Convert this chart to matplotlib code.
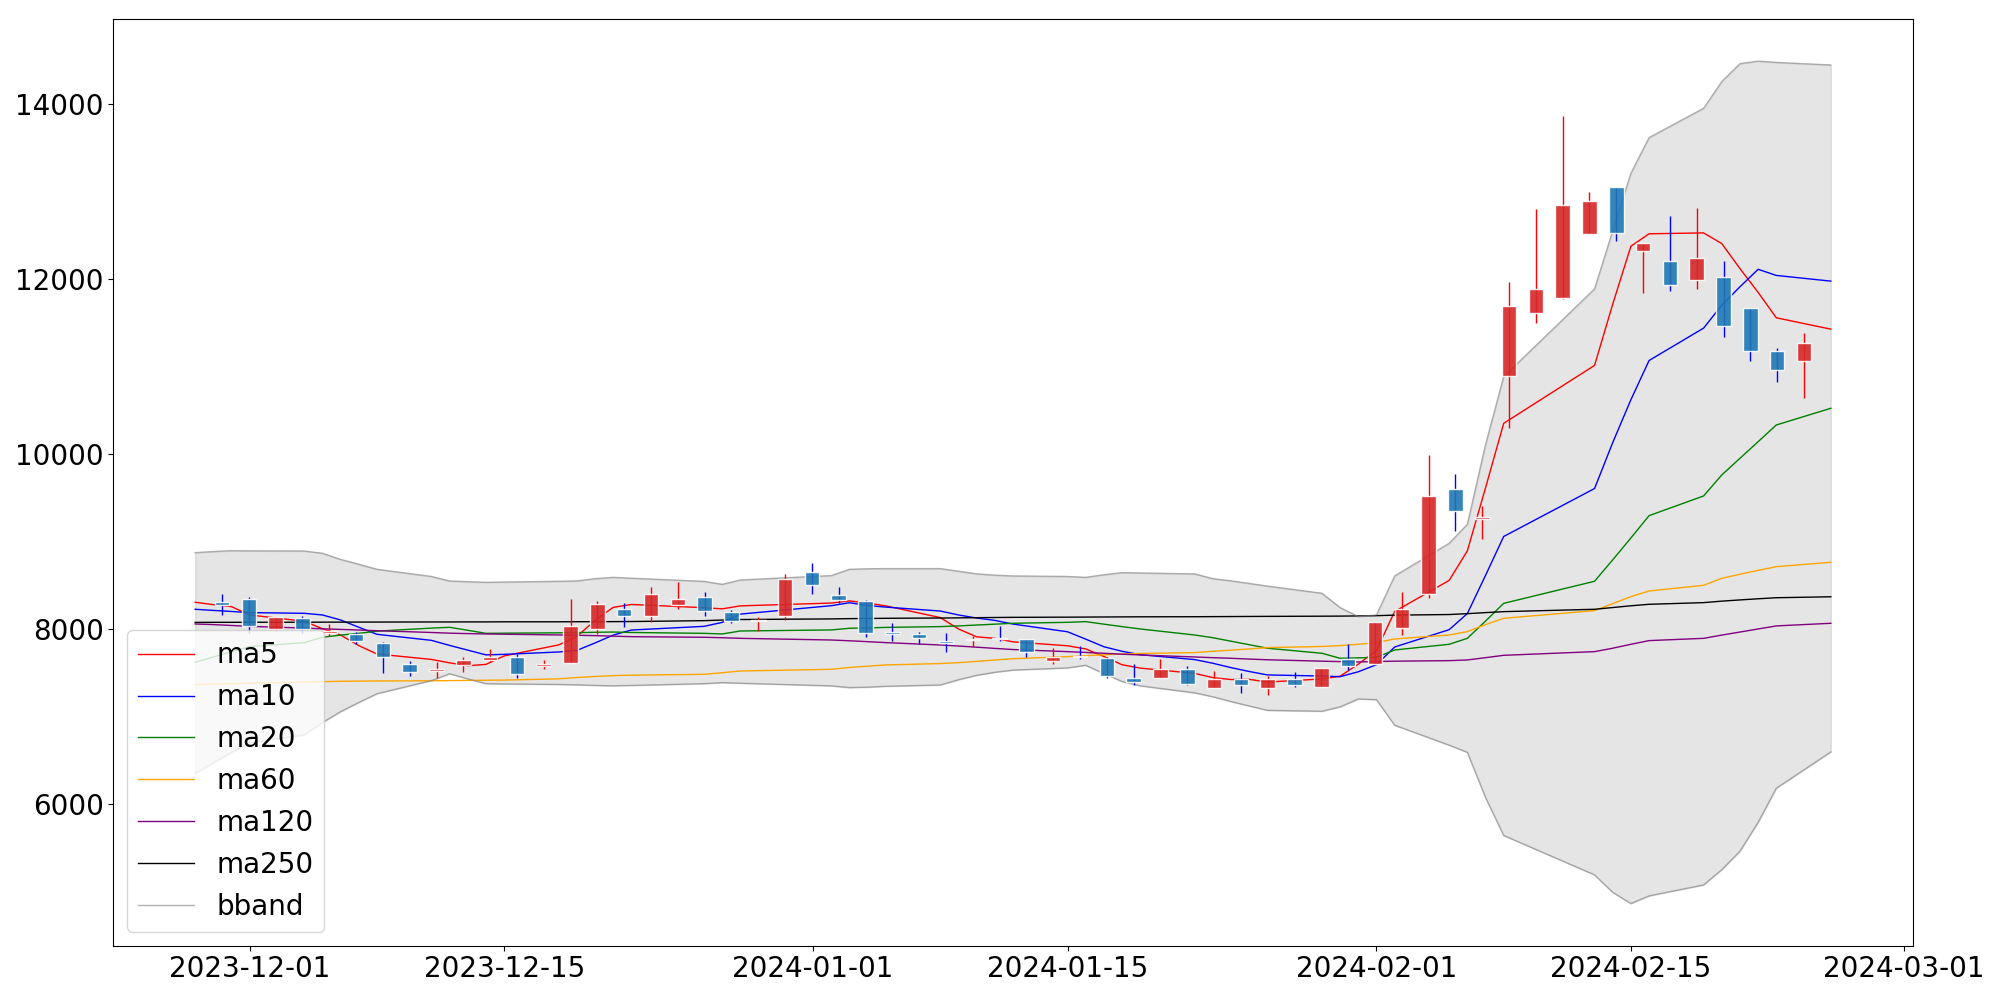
import numpy as np
import pandas as pd
import matplotlib
matplotlib.use('Agg')
import matplotlib.pyplot as plt
import matplotlib.dates as mdates

# trading days
dates = pd.to_datetime([
    '2023-11-28', '2023-11-29', '2023-11-30', '2023-12-01', '2023-12-04', '2023-12-05',
    '2023-12-06', '2023-12-07', '2023-12-08', '2023-12-11', '2023-12-12', '2023-12-13',
    '2023-12-14', '2023-12-15', '2023-12-18', '2023-12-19', '2023-12-20', '2023-12-21',
    '2023-12-22', '2023-12-26', '2023-12-27', '2023-12-28', '2024-01-02', '2024-01-03',
    '2024-01-04', '2024-01-05', '2024-01-08', '2024-01-09', '2024-01-10', '2024-01-11',
    '2024-01-12', '2024-01-15', '2024-01-16', '2024-01-17', '2024-01-18', '2024-01-19',
    '2024-01-22', '2024-01-23', '2024-01-24', '2024-01-25', '2024-01-26', '2024-01-29',
    '2024-01-30', '2024-01-31', '2024-02-01', '2024-02-02', '2024-02-05', '2024-02-06',
    '2024-02-07', '2024-02-08', '2024-02-13', '2024-02-14', '2024-02-15', '2024-02-16',
    '2024-02-19', '2024-02-20', '2024-02-21', '2024-02-22', '2024-02-23', '2024-02-26'])

# OHLC
open_ = [8312, 8339, 8000, 8122, 7958, 7943, 7836, 7604, 7520, 7589,
         7650, 7684, 7581, 7608, 8000, 8232, 8149, 8274, 8366, 8194,
         8091, 8149, 8651, 8389, 8324, 7966, 7943, 7863, 7878, 7901,
         7886, 7634, 7691, 7669, 7444, 7440, 7543, 7330, 7429, 7330,
         7429, 7341, 7661, 7602, 8015, 8400, 9600, 9261, 10895, 11608,
         11787, 12510, 13051, 12324, 12210, 11989, 12027, 11672, 11181, 11063]
high = [8396, 8370, 8140, 8149, 8053, 7962, 7855, 7638, 7627, 7684,
        7768, 7714, 7646, 8343, 8320, 8293, 8484, 8541, 8419, 8217,
        8141, 8625, 8751, 8476, 8331, 8065, 7966, 7950, 7920, 8034,
        7890, 7779, 7806, 7684, 7596, 7653, 7577, 7524, 7493, 7467,
        7512, 7558, 7829, 8082, 8419, 9989, 9768, 9410, 11970, 12796,
        13863, 12990, 13051, 12415, 12720, 12808, 12206, 11672, 11208, 11379]
low = [8160, 7950, 7981, 7958, 7920, 7829, 7493, 7467, 7436, 7512,
       7619, 7436, 7539, 7608, 7943, 8019, 8076, 8225, 8152, 8072,
       7981, 8103, 8396, 8293, 7912, 7859, 7829, 7741, 7798, 7867,
       7684, 7600, 7661, 7436, 7356, 7440, 7356, 7330, 7272, 7246,
       7341, 7341, 7531, 7602, 7931, 8350, 9120, 9029, 10293, 11493,
       11768, 12510, 12438, 11836, 11867, 11882, 11333, 11063, 10827, 10636]
close = [8274, 8034, 8133, 8000, 7977, 7863, 7684, 7509, 7543, 7646,
         7676, 7486, 7600, 8034, 8286, 8149, 8400, 8343, 8206, 8091,
         8099, 8572, 8503, 8331, 7958, 7947, 7897, 7844, 7890, 7886,
         7737, 7676, 7676, 7463, 7394, 7543, 7375, 7429, 7360, 7429,
         7360, 7558, 7581, 8082, 8225, 9520, 9352, 9276, 11691, 11886,
         12846, 12891, 12529, 12415, 11931, 12244, 11463, 11177, 10960, 11272]

# moving averages
ma5 = [8305, 8278, 8255, 8160, 8088, 8003, 7931, 7810, 7714, 7652,
       7613, 7580, 7595, 7692, 7818, 7914, 8098, 8247, 8280, 8243,
       8230, 8264, 8296, 8321, 8296, 8264, 8130, 8000, 7910, 7893,
       7853, 7808, 7772, 7686, 7591, 7553, 7492, 7444, 7422, 7424,
       7393, 7429, 7460, 7598, 7755, 8200, 8555, 8893, 9612, 10350,
       11012, 11712, 12374, 12516, 12526, 12404, 12118, 11846, 11556, 11426]
ma10 = [8225, 8212, 8200, 8187, 8179, 8160, 8103, 8020, 7939, 7870,
        7812, 7758, 7704, 7710, 7737, 7755, 7840, 7930, 7988, 8030,
        8075, 8170, 8266, 8300, 8268, 8250, 8205, 8160, 8125, 8098,
        8056, 7968, 7884, 7797, 7745, 7706, 7650, 7608, 7558, 7514,
        7475, 7462, 7455, 7511, 7592, 7794, 7992, 8176, 8612, 9057,
        9605, 10130, 10620, 11068, 11438, 11700, 11910, 12110, 12040, 11975]
ma20 = [7619, 7680, 7740, 7798, 7844, 7905, 7930, 7950, 7975, 8010,
        8019, 7985, 7950, 7952, 7956, 7958, 7962, 7965, 7960, 7950,
        7943, 7977, 7989, 8008, 8012, 8018, 8027, 8035, 8045, 8055,
        8065, 8076, 8084, 8055, 8027, 8000, 7931, 7900, 7860, 7820,
        7780, 7722, 7665, 7670, 7676, 7760, 7825, 7893, 8090, 8293,
        8545, 8790, 9040, 9295, 9520, 9760, 9950, 10140, 10331, 10522]
ma60 = [7365, 7370, 7375, 7380, 7395, 7398, 7402, 7404, 7406, 7408,
        7410, 7412, 7414, 7416, 7430, 7445, 7457, 7467, 7472, 7482,
        7500, 7520, 7539, 7560, 7575, 7589, 7605, 7615, 7630, 7645,
        7660, 7684, 7695, 7705, 7714, 7720, 7730, 7745, 7758, 7772,
        7787, 7800, 7810, 7825, 7844, 7886, 7931, 7970, 8050, 8122,
        8210, 8290, 8370, 8434, 8499, 8579, 8625, 8670, 8712, 8762]
ma120 = [8057, 8050, 8040, 8030, 8010, 8002, 7995, 7988, 7980, 7960,
         7952, 7947, 7943, 7940, 7932, 7928, 7924, 7918, 7912, 7905,
         7900, 7893, 7874, 7865, 7855, 7844, 7817, 7805, 7792, 7778,
         7765, 7741, 7732, 7722, 7712, 7703, 7680, 7672, 7665, 7656,
         7648, 7632, 7627, 7623, 7628, 7632, 7638, 7646, 7672, 7699,
         7741, 7780, 7825, 7867, 7893, 7930, 7965, 8000, 8035, 8065]
ma250 = [8075, 8076, 8076, 8077, 8077, 8078, 8078, 8079, 8079, 8080,
         8080, 8081, 8081, 8082, 8082, 8083, 8083, 8084, 8085, 8095,
         8102, 8108, 8115, 8118, 8120, 8122, 8125, 8127, 8129, 8131,
         8133, 8135, 8136, 8137, 8138, 8139, 8140, 8141, 8142, 8143,
         8144, 8146, 8147, 8149, 8152, 8158, 8165, 8175, 8187, 8198,
         8225, 8245, 8265, 8282, 8301, 8318, 8332, 8345, 8357, 8368]

# bollinger band
upper = [8872, 8885, 8895, 8893, 8891, 8865, 8795, 8740, 8682, 8600,
         8548, 8540, 8533, 8536, 8545, 8549, 8575, 8590, 8580, 8544,
         8510, 8560, 8610, 8682, 8688, 8690, 8690, 8660, 8630, 8615,
         8606, 8600, 8590, 8620, 8644, 8640, 8629, 8575, 8550, 8520,
         8490, 8408, 8244, 8141, 8160, 8606, 8979, 9196, 10106, 10884,
         11886, 12550, 13208, 13615, 13950, 14255, 14460, 14489, 14474, 14445]
lower = [6350, 6470, 6590, 6700, 6790, 6930, 7055, 7160, 7260, 7410,
         7488, 7430, 7375, 7372, 7366, 7362, 7355, 7350, 7355, 7375,
         7387, 7380, 7350, 7330, 7335, 7345, 7360, 7420, 7470, 7505,
         7530, 7555, 7585, 7490, 7400, 7350, 7270, 7225, 7170, 7120,
         7070, 7060, 7110, 7200, 7192, 6900, 6672, 6590, 6074, 5640,
         5190, 4990, 4862, 4950, 5075, 5250, 5460, 5790, 6180, 6595]

fig, ax = plt.subplots(figsize=(20, 10), dpi=100)
fig.subplots_adjust(left=0.0567, right=0.9563, bottom=0.0543, top=0.981)

ax.fill_between(dates, upper, lower, color='gray', alpha=0.2)
ax.plot(dates, ma5, color='red', lw=1, label='ma5')
ax.plot(dates, ma10, color='blue', lw=1, label='ma10')
ax.plot(dates, ma20, color='green', lw=1, label='ma20')
ax.plot(dates, ma60, color='orange', lw=1, label='ma60')
ax.plot(dates, ma120, color='purple', lw=1, label='ma120')
ax.plot(dates, ma250, color='black', lw=1, label='ma250')
ax.plot(dates, upper, color='gray', lw=1, alpha=0.6, label='bband')
ax.plot(dates, lower, color='gray', lw=1, alpha=0.6)

# candles sit evenly spaced inside the date span
dn = mdates.date2num(dates)
xc = np.linspace(dn[0], dn[-1], len(dn) + 2)[1:-1]
o = np.array(open_)
c = np.array(close)
up = c >= o
ax.vlines(xc[up], np.array(low)[up], np.array(high)[up], color='red', lw=1, zorder=3)
ax.vlines(xc[~up], np.array(low)[~up], np.array(high)[~up], color='blue', lw=1, zorder=3)
ax.bar(xc[up], (c - o)[up], bottom=o[up], width=0.8, color='tab:red',
       edgecolor='white', alpha=0.9, zorder=4)
ax.bar(xc[~up], (c - o)[~up], bottom=o[~up], width=0.8, color='tab:blue',
       edgecolor='white', alpha=0.9, zorder=4)

ax.tick_params(labelsize=20)
ax.legend(loc='lower left', fontsize=20)

fig.savefig('out.png')
